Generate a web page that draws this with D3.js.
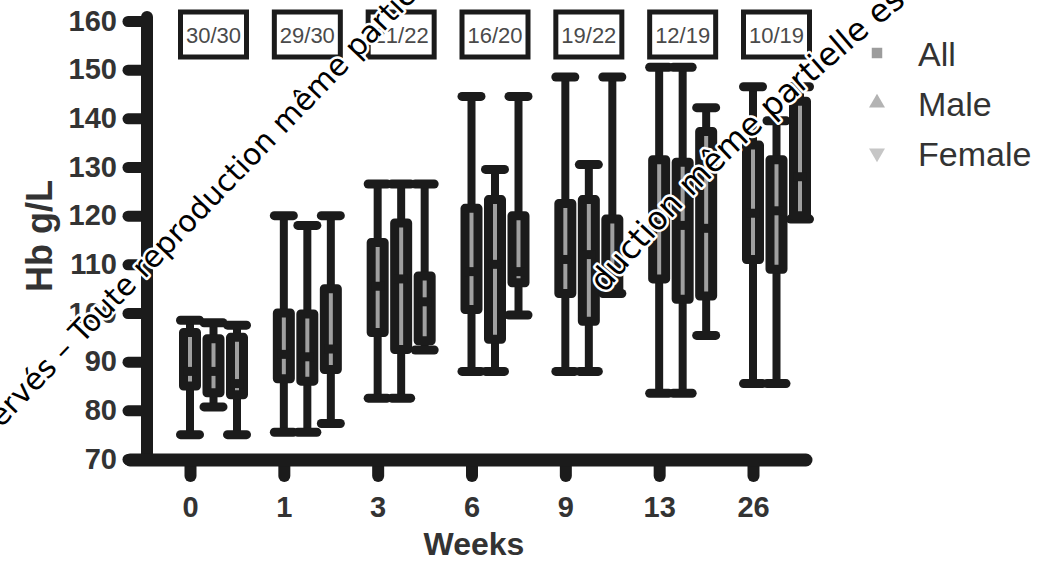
<!DOCTYPE html>
<html>
<head>
<meta charset="utf-8">
<script src="https://cdn.jsdelivr.net/npm/d3@7"></script>
<style>
  html, body { margin: 0; padding: 0; background: #fff; }
  svg { display: block; }
</style>
</head>
<body>
<script>
// ---- Data ----
const weeks = ["0", "1", "3", "6", "9", "13", "26"];
const counts = ["30/30", "29/30", "21/22", "16/20", "19/22", "12/19", "10/19"];
const yTicks = [70, 80, 90, 100, 110, 120, 130, 140, 150, 160];
const seriesNames = ["All", "Male", "Female"];

// [min, q1, median, q3, max] per week
const allStats = [
  [75, 85, 88, 96, 98.5],
  [75.5, 86.5, 91.5, 100, 120],
  [82.5, 96, 105.5, 114.5, 126.5],
  [88, 100.7, 108.5, 121.5, 144.5],
  [88, 104, 111, 122.5, 148.5],
  [83.5, 107, 118, 131.5, 150.5],
  [85.5, 111, 120.5, 134.5, 146.5]
];
const maleStats = [
  [80.7, 83.6, 88, 94.7, 98],
  [75.5, 86, 91, 99.8, 118],
  [82.5, 92.5, 107, 118.5, 126.5],
  [88, 94.6, 110, 123.3, 129.5],
  [88, 98.3, 112, 123.3, 130.5],
  [83.5, 102.8, 118, 131, 150.5],
  [85.5, 109, 121, 131.5, 139.5]
];
const femaleStats = [
  [75, 83.2, 85.5, 95, 97.5],
  [77.3, 88.4, 92.6, 105, 120],
  [92.4, 94.3, 102.3, 107.6, 126.5],
  [99.6, 106.2, 108.5, 120, 144.5],
  [104, 105, 108.5, 119.3, 148.5],
  [95.4, 103.5, 117.4, 137.3, 142.2],
  [119.3, 120, 128, 143.5, 146.5]
];

// ---- Layout ----
const W = 1046, H = 562;
const ink = "#1b1b1b";
const svg = d3.select("body").append("svg").attr("width", W).attr("height", H);

const x = d3.scalePoint().domain(weeks).range([190, 753]);
const y = d3.scaleLinear().domain([70, 160]).range([459, 21]);
const offsets = { All: 0, Male: 23.5, Female: 47 };
const stats = { All: allStats, Male: maleStats, Female: femaleStats };

// ---- Axes ----
const axisX0 = 147, axisY0 = 460;
const yAxis = svg.append("g").attr("transform", `translate(${axisX0},0)`)
  .call(d3.axisLeft(y).tickValues(yTicks).tickSize(19).tickPadding(11));
yAxis.select(".domain").remove();
yAxis.selectAll(".tick line").attr("stroke", ink).attr("stroke-width", 11).attr("stroke-linecap", "round");
yAxis.selectAll(".tick text")
  .attr("font-family", "Liberation Sans, Arial, sans-serif")
  .attr("font-weight", "bold").attr("font-size", 29).attr("fill", "#333");

const xAxis = svg.append("g").attr("transform", `translate(0,${axisY0})`)
  .call(d3.axisBottom(x).tickSize(16).tickPadding(20));
xAxis.select(".domain").remove();
xAxis.selectAll(".tick line").attr("stroke", ink).attr("stroke-width", 12).attr("stroke-linecap", "round");
xAxis.selectAll(".tick text")
  .attr("font-family", "Liberation Sans, Arial, sans-serif")
  .attr("font-weight", "bold").attr("font-size", 29).attr("fill", "#333");

// thick axis lines
svg.append("line").attr("x1", axisX0).attr("x2", axisX0).attr("y1", y(160) - 4).attr("y2", axisY0)
  .attr("stroke", ink).attr("stroke-width", 12).attr("stroke-linecap", "round");
svg.append("line").attr("x1", 130).attr("x2", 806).attr("y1", axisY0).attr("y2", axisY0)
  .attr("stroke", ink).attr("stroke-width", 13).attr("stroke-linecap", "round");

// axis titles
svg.append("text").attr("x", 474).attr("y", 555).attr("text-anchor", "middle")
  .attr("font-family", "Liberation Sans, Arial, sans-serif").attr("font-weight", "bold")
  .attr("font-size", 32).attr("fill", "#333").text("Weeks");
svg.append("text").attr("transform", "translate(52,236) rotate(-90)").attr("text-anchor", "middle")
  .attr("font-family", "Liberation Sans, Arial, sans-serif").attr("font-weight", "bold")
  .attr("font-size", 36).attr("fill", "#333").text("Hb g/L");

// ---- Box plots ----
const boxW = 13, capHalf = 9.5;
seriesNames.forEach(name => {
  const g = svg.append("g");
  stats[name].forEach((s, i) => {
    const cx = x(weeks[i]) + offsets[name];
    const [mn, q1, md, q3, mx] = s;
    g.append("line").attr("x1", cx).attr("x2", cx).attr("y1", y(mx)).attr("y2", y(mn))
      .attr("stroke", ink).attr("stroke-width", 8);
    [mn, mx].forEach(v => {
      g.append("line").attr("x1", cx - capHalf).attr("x2", cx + capHalf).attr("y1", y(v)).attr("y2", y(v))
        .attr("stroke", ink).attr("stroke-width", 9).attr("stroke-linecap", "round");
    });
    g.append("rect").attr("x", cx - boxW / 2).attr("width", boxW)
      .attr("y", y(q3)).attr("height", y(q1) - y(q3))
      .attr("fill", "#a0a0a0").attr("stroke", ink).attr("stroke-width", 9)
      .attr("stroke-linejoin", "round");
    g.append("line").attr("x1", cx - boxW / 2).attr("x2", cx + boxW / 2).attr("y1", y(md)).attr("y2", y(md))
      .attr("stroke", ink).attr("stroke-width", 9);
  });
});

// ---- Count labels at top ----
counts.forEach((c, i) => {
  const cx = x(weeks[i]) + offsets.Male;
  svg.append("rect").attr("x", cx - 33).attr("y", 12).attr("width", 66).attr("height", 45)
    .attr("fill", "#fff").attr("stroke", ink).attr("stroke-width", 5);
  svg.append("text").attr("x", cx).attr("y", 43).attr("text-anchor", "middle")
    .attr("font-family", "Liberation Sans, Arial, sans-serif").attr("font-size", 22)
    .attr("fill", "#4a4a4a").text(c);
});

// ---- Legend ----
const legendColors = { All: "#9c9c9c", Male: "#b3b3b3", Female: "#c6c6c6" };
const legendSymbols = { All: d3.symbolSquare, Male: d3.symbolTriangle, Female: d3.symbolTriangle };
seriesNames.forEach((name, i) => {
  const ly = 53 + i * 50;
  svg.append("path")
    .attr("d", d3.symbol().type(legendSymbols[name]).size(110)())
    .attr("fill", legendColors[name])
    .attr("transform", `translate(877,${ly})` + (name === "Female" ? " rotate(180)" : ""));
  svg.append("text").attr("x", 918).attr("y", ly + 13)
    .attr("font-family", "Liberation Sans, Arial, sans-serif").attr("font-size", 34)
    .attr("fill", "#333").text(name);
});

// ---- Watermark (white-haloed text along a path) ----
const wmFont = (t, fs) => t.attr("font-family", "DejaVu Sans, sans-serif").attr("font-size", fs);
function watermark(id, d, anchor, prefix, text, fs) {
  const p = svg.append("path").attr("id", id).attr("d", d).attr("fill", "none");
  const node = p.node(), L = node.getTotalLength();
  let best = 0, bd = Infinity;
  for (let l = 0; l <= L; l += 1) {
    const pt = node.getPointAtLength(l);
    const dd = (pt.x - anchor[0]) ** 2 + (pt.y - anchor[1]) ** 2;
    if (dd < bd) { bd = dd; best = l; }
  }
  let w = 0;
  if (prefix) {
    const tmp = wmFont(svg.append("text"), fs).text(prefix);
    w = tmp.node().getComputedTextLength();
    tmp.remove();
  }
  wmFont(svg.append("text"), fs)
    .attr("fill", "#000").attr("stroke", "#fff").attr("stroke-width", 5)
    .attr("paint-order", "stroke").attr("stroke-linejoin", "round")
    .append("textPath").attr("href", "#" + id).attr("startOffset", best - w)
    .text((prefix || "") + text);
}
watermark("wm1", "M-130,564 L520,-109", [82, 345],
  "Tous droits réservés –\u00a0", "Toute reproduction même partielle est interdite", 30);
watermark("wm2", "M540,380 Q669,189 960,-40", [603, 292],
  "", "duction même partielle est interdite", 32);
</script>
</body>
</html>
